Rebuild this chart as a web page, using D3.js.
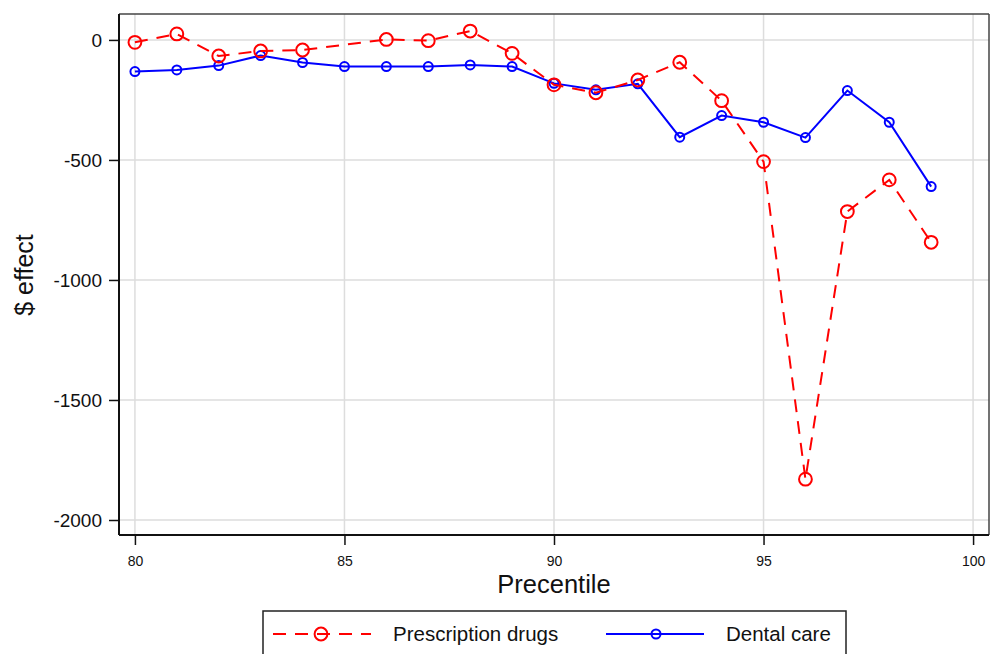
<!DOCTYPE html>
<html>
<head>
<meta charset="utf-8">
<script src="https://cdn.jsdelivr.net/npm/d3@7/dist/d3.min.js"></script>
<style>
  html, body { margin: 0; padding: 0; background: #fff; }
  svg { display: block; font-family: "Liberation Sans", Arial, sans-serif; }
</style>
</head>
<body>
<svg id="chart" width="992" height="654"></svg>
<script>
const percentiles = [80, 81, 82, 83, 84, 85, 86, 87, 88, 89, 90, 91, 92, 93, 94, 95, 96, 97, 98, 99];
const prescriptionDrugs = [-10, 25, -67, -46, -42, null, 2, -3, 37, -56, -187, -220, -167, -93, -253, -507, -1830, -715, -583, -843];
const dentalCare = [-132, -125, -107, -65, -94, -111, -111, -111, -104, -111, -181, -208, -183, -405, -315, -343, -407, -211, -343, -611];
const xTicks = [80, 85, 90, 95, 100];
const yTicks = [0, -500, -1000, -1500, -2000];
const seriesNames = ["Prescription drugs", "Dental care"];

const svg = d3.select("#chart");
const L = 119, R = 989, T = 14, B = 535;

const x = d3.scaleLinear().domain([79.62, 100.38]).range([L, R]);
const y = d3.scaleLinear().domain([108, -2062.5]).range([T, B]);

// gridlines
svg.append("g").selectAll("line").data(xTicks).join("line")
  .attr("x1", d => x(d)).attr("x2", d => x(d)).attr("y1", T).attr("y2", B)
  .attr("stroke", "#dddddd").attr("stroke-width", 1.5);
svg.append("g").selectAll("line").data(yTicks).join("line")
  .attr("y1", d => y(d)).attr("y2", d => y(d)).attr("x1", L).attr("x2", R)
  .attr("stroke", "#dddddd").attr("stroke-width", 1.5);

// frame top/right
svg.append("line").attr("x1", L).attr("x2", R).attr("y1", T).attr("y2", T).attr("stroke", "#444").attr("stroke-width", 1.5);
svg.append("line").attr("x1", R).attr("x2", R).attr("y1", T).attr("y2", B).attr("stroke", "#444").attr("stroke-width", 1.5);

// axes
const yAxis = d3.axisLeft(y).tickValues(yTicks).tickSize(10).tickPadding(7).tickFormat(d => String(d));
const gy = svg.append("g").attr("transform", `translate(${L},0)`).call(yAxis);
gy.select(".domain").attr("stroke", "#111").attr("stroke-width", 2).attr("d", `M0,${T}V${B}`);
gy.selectAll(".tick line").attr("stroke", "#111").attr("stroke-width", 1.5);
gy.selectAll(".tick text").attr("font-size", 19).attr("fill", "#111").attr("font-family", "Liberation Sans, Arial, sans-serif");

const xAxis = d3.axisBottom(x).tickValues(xTicks).tickSize(10).tickPadding(11).tickFormat(d => String(d));
const gx = svg.append("g").attr("transform", `translate(0,${B})`).call(xAxis);
gx.select(".domain").attr("stroke", "#111").attr("stroke-width", 2).attr("d", `M${L},0H${R}`);
gx.selectAll(".tick line").attr("stroke", "#111").attr("stroke-width", 1.5);
gx.selectAll(".tick text").attr("font-size", 14).attr("fill", "#111").attr("font-family", "Liberation Sans, Arial, sans-serif");

// axis titles
svg.append("text").attr("x", 554).attr("y", 593).attr("text-anchor", "middle")
  .attr("font-size", 25.5).attr("fill", "#111").text("Precentile");
svg.append("text").attr("transform", "translate(33,275) rotate(-90)").attr("text-anchor", "middle")
  .attr("font-size", 25).attr("fill", "#111").text("$ effect");

// series
const redPts = percentiles.map((p, i) => ({p, v: prescriptionDrugs[i]})).filter(d => d.v !== null);
const bluePts = percentiles.map((p, i) => ({p, v: dentalCare[i]})).filter(d => d.v !== null);
const line = d3.line().x(d => x(d.p)).y(d => y(d.v));

svg.append("path").datum(bluePts).attr("d", line).attr("fill", "none")
  .attr("stroke", "#0000ff").attr("stroke-width", 2);
svg.append("g").selectAll("circle").data(bluePts).join("circle")
  .attr("cx", d => x(d.p)).attr("cy", d => y(d.v)).attr("r", 4.5)
  .attr("fill", "none").attr("stroke", "#0000ff").attr("stroke-width", 2);

svg.append("path").datum(redPts).attr("d", line).attr("fill", "none")
  .attr("stroke", "#ff0000").attr("stroke-width", 2).attr("stroke-dasharray", "13,9");
svg.append("g").selectAll("circle").data(redPts).join("circle")
  .attr("cx", d => x(d.p)).attr("cy", d => y(d.v)).attr("r", 6.4)
  .attr("fill", "none").attr("stroke", "#ff0000").attr("stroke-width", 2);

// legend
const lg = svg.append("g");
lg.append("rect").attr("x", 263).attr("y", 611).attr("width", 583).attr("height", 60)
  .attr("fill", "#fff").attr("stroke", "#222").attr("stroke-width", 1.5);
lg.append("line").attr("x1", 273).attr("x2", 371).attr("y1", 634).attr("y2", 634)
  .attr("stroke", "#ff0000").attr("stroke-width", 2).attr("stroke-dasharray", "13,9");
lg.append("circle").attr("cx", 321).attr("cy", 634).attr("r", 6.4)
  .attr("fill", "none").attr("stroke", "#ff0000").attr("stroke-width", 2);
lg.append("text").attr("x", 393).attr("y", 641).attr("font-size", 20.5).attr("fill", "#111").text(seriesNames[0]);
lg.append("line").attr("x1", 606).attr("x2", 704).attr("y1", 634).attr("y2", 634)
  .attr("stroke", "#0000ff").attr("stroke-width", 2);
lg.append("circle").attr("cx", 656).attr("cy", 634).attr("r", 4.5)
  .attr("fill", "none").attr("stroke", "#0000ff").attr("stroke-width", 2);
lg.append("text").attr("x", 726).attr("y", 641).attr("font-size", 20.5).attr("fill", "#111").text(seriesNames[1]);
</script>
</body>
</html>
